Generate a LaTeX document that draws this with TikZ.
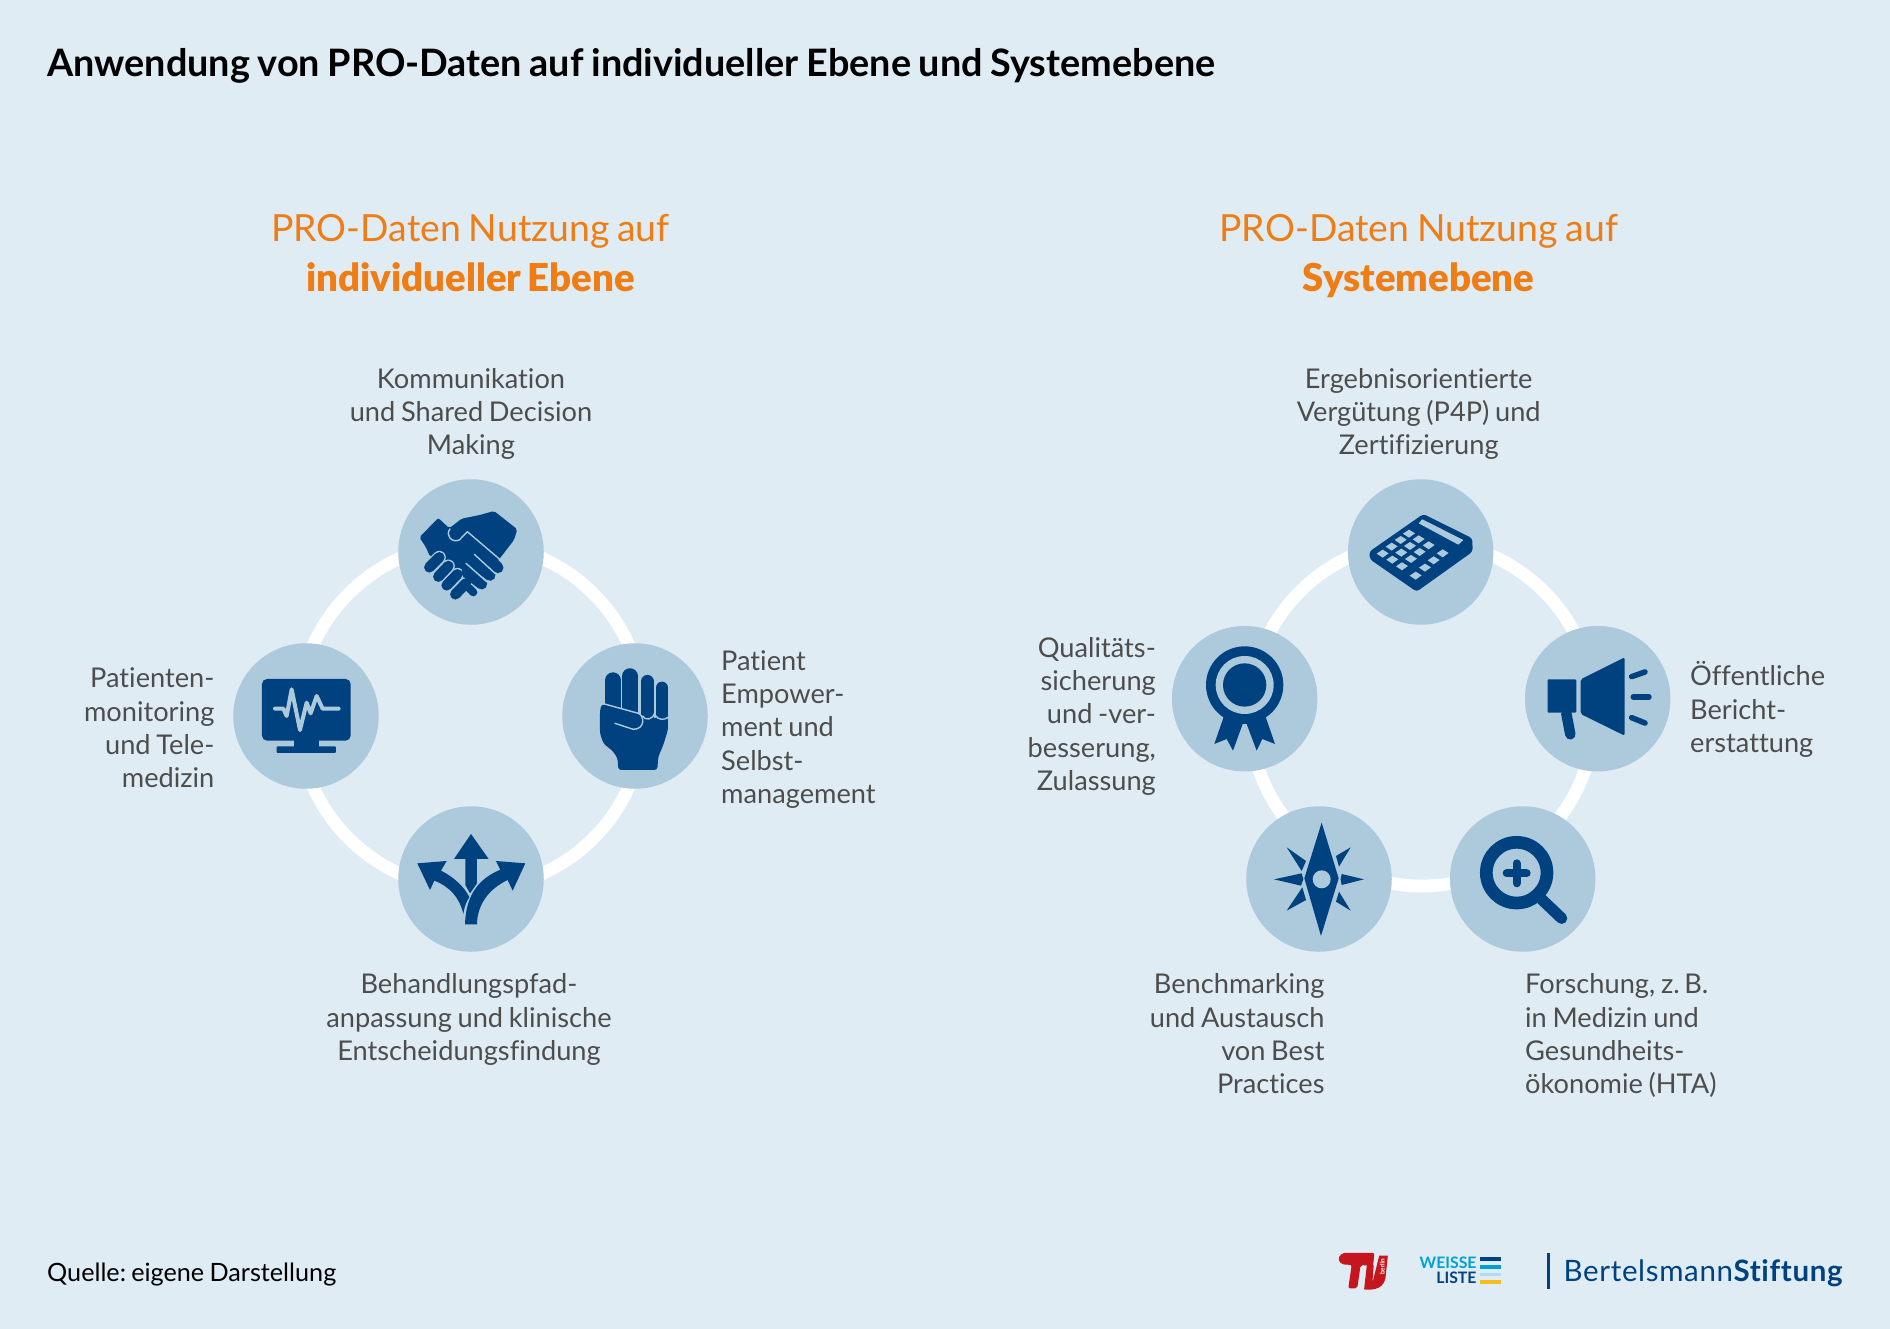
\documentclass[tikz,border=0pt]{standalone}
\usepackage{fontspec}
\setmainfont{Lato}[Ligatures=NoCommon,WordSpace=0.82]
\newfontfamily\latoblk{Lato Black}[Ligatures=NoCommon,WordSpace=0.7]
\frenchspacing
\definecolor{bgc}{HTML}{DFECF4}
\definecolor{disc}{HTML}{ADC9DC}
\definecolor{navy}{HTML}{00427F}
\definecolor{grey}{HTML}{4D4D4D}
\definecolor{orng}{HTML}{F07D14}
\definecolor{tured}{HTML}{C4161C}
\definecolor{wlcyan}{HTML}{009FD6}
\definecolor{wlpale}{HTML}{B0DCF0}
\definecolor{wlyel}{HTML}{F4BE1E}
\newcommand{\fl}{\rule{0pt}{20pt}}
\tikzset{
  zm/.style 2 args={shift={(#1,#2)},x=.3333pt,y=-.3333pt},
  zn/.style 2 args={shift={(#1,#2)},x=.3444pt,y=-.3444pt},
  disk/.style={circle,fill=disc,minimum size=145.5pt,inner sep=0pt},
  ring/.style={draw=white,line width=12.7pt},
  lbl/.style={text=grey,inner sep=0pt,font=\fontsize{27.2}{33.3}\selectfont},
  lblc/.style={lbl,align=center,anchor=north},
  lbll/.style={lbl,align=left,anchor=north west},
  lblr/.style={lbl,align=right,anchor=north east},
  head/.style={text=orng,inner sep=0pt,align=center,anchor=north,font=\fontsize{37.4}{50}\selectfont},
  lt/.style={draw=disc,line width=1.4pt,line cap=round,line join=round},
  ink/.style={fill=navy},
  st/.style={draw=navy,line cap=round,line join=round},
}
\begin{document}
\begin{tikzpicture}[x=1pt,y=-1pt]
\useasboundingbox (0,0) rectangle (1890,1329);
\fill[bgc] (0,0) rectangle (1890,1329);

\node[anchor=base west,inner sep=0pt,font=\fontsize{37.8}{40}\selectfont\bfseries,text=black] (title) at (47,77) {Anwendung von PRO-Daten auf individueller Ebene und Systemebene};

\node[head] (hl) at (470.5,214) {\fl PRO-Daten Nutzung auf\\{\latoblk\fontsize{38.4}{50}\selectfont individueller Ebene}};
\node[head] (hr) at (1418.7,214) {\fl PRO-Daten Nutzung auf\\{\latoblk\fontsize{38.4}{50}\selectfont Systemebene}};

% rings
\coordinate (cL) at (471,716);
\coordinate (cR) at (1422,713.5);
\draw[ring] (cL) circle[radius=173];
\draw[ring] (cR) circle[radius=172.5];

% discs
\node[disk] (a1) at (471,552) {};
\node[disk] (a2) at (635,716) {};
\node[disk] (a3) at (471,879) {};
\node[disk] (a4) at (306,716) {};
\node[disk] (b1) at (1420.7,552) {};
\node[disk] (b2) at (1597.7,698.7) {};
\node[disk] (b3) at (1522.7,879) {};
\node[disk] (b4) at (1319,879) {};
\node[disk] (b5) at (1244.7,698.7) {};

% labels
\node[lblc] (t1) at (471,368) {\fl Kommunikation\\und Shared Decision\\Making};
\node[lbll] (t2) at (721,650) {\fl Patient\\Empower-\\ment und\\Selbst-\\management};
\node[lblc] (t3) at (469,973.5) {\fl Behandlungspfad-\\anpassung und klinische\\Entscheidungsfindung};
\node[lblr] (t4) at (214.6,667.5) {\fl Patienten-\\monitoring\\und Tele-\\medizin};
\node[lblc] (t5) at (1418.7,368) {\fl Ergebnisorientierte\\Vergütung (P4P) und\\Zertifizierung};
\node[lbll] (t6) at (1690,661.5) {\fl Öffentliche\\Bericht-\\erstattung};
\node[lbll] (t7) at (1525,973.5) {\fl Forschung, z.\,B.\\in Medizin und\\Gesundheits-\\ökonomie (HTA)};
\node[lblr] (t8) at (1324.7,973.5) {\fl Benchmarking\\und Austausch\\von Best\\Practices};
\node[lblr] (t9) at (1156,637) {\fl Qualitäts-\\sicherung\\und -ver-\\besserung,\\Zulassung};

\node[anchor=base west,inner sep=0pt,text=black,font=\fontsize{25.2}{30}\selectfont] (src) at (47,1281) {Quelle: eigene Darstellung};

% handshake
\begin{scope}[zm={380}{460}]
\fill[ink,rounded corners=2pt] (118,232)--(175,174)--(208,205)--(245,176)--(300,165)--(342,153)--(412,208)--(402,240)--(358,297)--(300,340)--(250,360)--(170,290)--(150,290)--(138,262)--cycle;
\foreach \a/\b/\c/\d in {226/403/258/370,200/376/232/343,175/350/205/318,148/322/178/292}{
  \draw[line width=13pt,draw=disc,line cap=round] (\a,\b)--(\c,\d);
  \draw[line width=10.5pt,draw=navy,line cap=round] (\a,\b)--(\c,\d);
}
\draw[st,line width=11pt] (300,268)--(354,323);
\draw[st,line width=11pt] (285,313)--(330,346);
\draw[st,line width=11pt] (260,337)--(305,372);
\draw[st,line width=8pt] (268,385)--(280,397);
\draw[lt] (210,207) .. controls (195,225) and (215,250) .. (238,240) -- (262,215) -- (358,297);
\draw[lt] (283,283)--(345,340);
\draw[lt] (258,310)--(320,365);
\end{scope}

% monitor
\begin{scope}[zm={220}{630}]
\fill[ink,rounded corners=5pt] (126,147) rectangle (392,332);
\fill[ink] (222,330) rectangle (297,352);
\fill[ink,rounded corners=1pt] (170,349) rectangle (348,369);
\draw[draw=disc,line width=4pt,line cap=round,line join=round] (165,236)--(190,236)--(200,258)--(215,178)--(240,300)--(260,218)--(272,250)--(290,198)--(308,236)--(356,236);
\end{scope}

% fist
\begin{scope}[zm={220}{630}]
\draw[st,line width=16pt] (1179,151)--(1179,240);
\draw[st,line width=15.5pt] (1230,138)--(1230,250);
\draw[st,line width=13.5pt] (1282,155)--(1282,260);
\draw[st,line width=12pt] (1326,173)--(1326,260);
\fill[ink,rounded corners=3pt] (1140,242)--(1145,222)--(1260,250)--(1275,265)--(1344,262)--(1344,300)--(1330,345)--(1315,380)--(1312,420)--(1195,420)--(1193,385)--(1180,365)--(1150,340)--(1140,310)--cycle;
\draw[lt] (1150,221)--(1255,250) .. controls (1275,258) and (1275,298) .. (1240,298) -- (1185,280);
\draw[lt] (1268,258) .. controls (1275,272) and (1300,272) .. (1305,245);
\draw[lt] (1305,255) .. controls (1315,272) and (1335,270) .. (1344,262);
\end{scope}

% arrows
\begin{scope}[zm={390}{800}]
\fill[ink] (243,102)--(296,177)--(261,177)--(261,250)--(240,280)--(226,255)--(226,177)--(192,177)--cycle;
\fill[ink] (406,190)--(318,183)--(331,209) .. controls (270,235) and (228,280) .. (225,373) -- (261,373) .. controls (262,310) and (300,265) .. (353,240) -- (368,272)--cycle;
\fill[ink] (82,190)--(170,183)--(153,212) .. controls (190,230) and (225,262) .. (238,292) .. controls (228,305) and (222,325) .. (220,342) .. controls (210,295) and (180,260) .. (133,242) -- (120,270)--cycle;
\end{scope}

% calculator
\begin{scope}[zm={1160}{470}]
\fill[ink,rounded corners=3pt] (790,132)--(937,205)--(938,245)--(770,365)--(630,268)--(628,245)--cycle;
\fill[disc] (787,148)--(910,210)--(895,224)--(776,160)--cycle;
\foreach \x/\y in {747/190,722/209,695/229,668/250,776/207,750/227,724/247,697/268,806/225,779/245,753/266,726/288,848/249,821/270,795/292,767/316}{
  \fill[disc] (\x-18,\y+1)--(\x,\y-11)--(\x+18,\y)--(\x,\y+13)--cycle;
}
% rosette
\fill[ink] (192,738)--(163,822)--(200,807)--(219,842)--(248,762)--(260,762)--(290,842)--(307,807)--(345,822)--(316,738)--cycle;
\fill[ink] (254,645) circle[radius=116];
\fill[disc] (254,645) circle[radius=87];
\fill[ink] (254,645) circle[radius=65];
% megaphone
\draw[st,line width=10.5pt] (1219,730)--(1231,793);
\fill[ink,rounded corners=1pt] (1163,628) rectangle (1249,728);
\fill[ink,rounded corners=2pt] (1262,628)--(1394,562)--(1394,797)--(1262,732)--cycle;
\draw[st,line width=5.5pt] (1415,620)--(1455,606);
\draw[st,line width=5.5pt] (1420,681)--(1467,681);
\draw[st,line width=5.5pt] (1415,743)--(1455,759);
\end{scope}

% compass and magnifier
\begin{scope}[zm={1240}{800}]
\fill[ink] (245,68)--(296,235)--(243,408)--(193,235)--cycle;
\fill[disc] (245,238) circle[radius=27];
\fill[ink] (102,238)--(185,220)--(190,238)--(183,257)--cycle;
\fill[ink] (372,238)--(305,222)--(302,238)--(305,255)--cycle;
\fill[ink] (140,142)--(198,183)--(185,213)--cycle;
\fill[ink] (332,142)--(297,200)--(288,168)--cycle;
\fill[ink] (140,332)--(198,300)--(187,262)--cycle;
\fill[ink] (332,332)--(297,275)--(288,305)--cycle;
\draw[st,line width=12.7pt] (830,218) circle[radius=91];
\draw[st,line width=11.3pt] (905,298)--(965,355);
\draw[st,line width=8pt] (800,220)--(860,220);
\draw[st,line width=8pt] (830,190)--(830,250);
\end{scope}

% logos
\begin{scope}[zn={1320}{1235}]
\fill[tured,rounded corners=2pt] (65,52)--(158,52)--(154,90)--(118,87)--(108,155)--(82,155)--(92,87)--(62,85)--(52,68)--cycle;
\fill[tured] (136,87)--(156,87)--(152,140)--(172,60)--(197,60)--(190,125) .. controls (185,150) and (165,162) .. (128,158) -- cycle;
\node[text=white,rotate=90,inner sep=0pt,font=\fontsize{6.5}{7}\selectfont\bfseries] (tub) at (181,92) {berlin};
\node[anchor=base east,inner sep=0pt,text=wlcyan,font=\fontsize{15.8}{16}\selectfont\bfseries] (w1) at (455,98) {WEISSE};
\node[anchor=base east,inner sep=0pt,text=navy,font=\fontsize{15.8}{16}\selectfont\bfseries] (w2) at (455,142) {LISTE};
\fill[navy] (465,65) rectangle (525,76);
\fill[wlcyan] (465,87) rectangle (525,98);
\fill[wlpale] (465,109) rectangle (525,120);
\fill[wlyel] (465,131) rectangle (525,142);
\fill[navy] (659,52) rectangle (667,158);
\node[anchor=base west,inner sep=0pt,text=navy,font=\fontsize{29.5}{30}\selectfont\addfontfeature{LetterSpace=2.2}] (bs) at (707,135) {Bertelsmann\textbf{Stiftung}};
\end{scope}
\end{tikzpicture}
\end{document}
